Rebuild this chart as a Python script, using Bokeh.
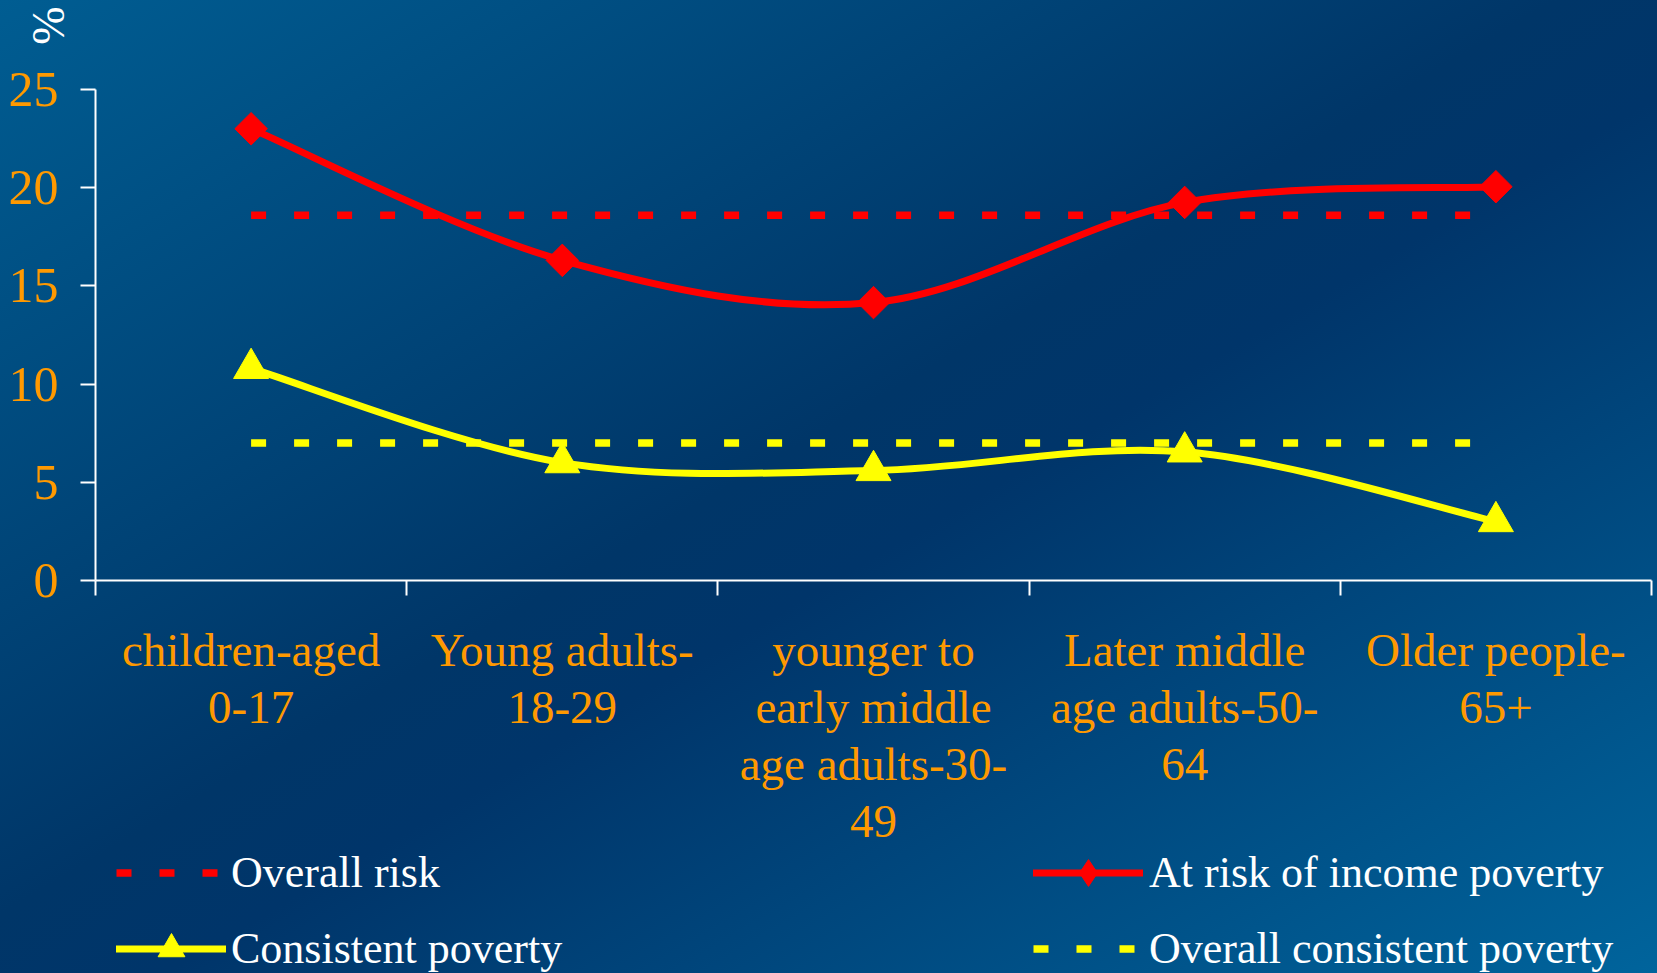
import numpy as np
from math import pi
from bokeh.plotting import figure
from bokeh.models import Range1d, FixedTicker, Legend, LegendItem, Label, ColumnDataSource
from bokeh.embed import file_html
from bokeh.resources import INLINE

# ---- data ----
categories = [
    "children-aged\n0-17",
    "Young adults-\n18-29",
    "younger to\nearly middle\nage adults-30-\n49",
    "Later middle\nage adults-50-\n64",
    "Older people-\n65+",
]
at_risk = [23.0, 16.3, 14.15, 19.25, 20.05]
consistent = [10.8, 6.0, 5.6, 6.55, 3.0]
overall_risk = 18.6
overall_consistent = 7.0
y_ticks = [0, 5, 10, 15, 20, 25]

FONT = "Liberation Serif"
ORANGE = "#FF9900"
RED = "#FF0000"
YELLOW = "#FFFF00"

W, H = 1657, 973
# plot-area placement (pixels)
LEFT, RIGHT, TOP, BOTTOM = 95, 1651, 89, 580
ncat = len(categories)
xc = [i + 0.5 for i in range(ncat)]
ymax = y_ticks[-1]
sx = (RIGHT - LEFT) / ncat
sy = (BOTTOM - TOP) / ymax
x_range = Range1d(-LEFT / sx, ncat + (W - RIGHT) / sx)
y_range = Range1d(-(H - BOTTOM) / sy, ymax + TOP / sy)


def smooth_source(xs, ys):
    """Bezier control points for a smoothed line through the data points."""
    pts = np.column_stack([xs, ys]).astype(float)
    ext = np.vstack([pts[0], pts, pts[-1]])
    d = dict(x0=[], y0=[], x1=[], y1=[], cx0=[], cy0=[], cx1=[], cy1=[])
    for i in range(len(pts) - 1):
        p0, p1, p2, p3 = ext[i], ext[i + 1], ext[i + 2], ext[i + 3]
        c0 = p1 + (p2 - p0) / 6.0
        c1 = p2 - (p3 - p1) / 6.0
        d["x0"].append(p1[0]); d["y0"].append(p1[1])
        d["x1"].append(p2[0]); d["y1"].append(p2[1])
        d["cx0"].append(c0[0]); d["cy0"].append(c0[1])
        d["cx1"].append(c1[0]); d["cy1"].append(c1[1])
    return ColumnDataSource(d)


p = figure(width=W, height=H, x_range=x_range, y_range=y_range,
           output_backend="svg", toolbar_location=None,
           min_border_left=0, min_border_right=0, min_border_top=0, min_border_bottom=0)
p.background_fill_alpha = 0
p.border_fill_alpha = 0
p.outline_line_color = None
p.styles = {"background": "linear-gradient(to bottom right, #005d92 0%, #003668 47%, #00356a 55%, #00649c 100%)"}
p.xgrid.visible = False
p.ygrid.visible = False

# y axis
ya = p.yaxis[0]
ya.fixed_location = 0
ya.bounds = (0, ymax)
ya.ticker = FixedTicker(ticks=y_ticks, minor_ticks=[])
ya.axis_line_color = "white"
ya.axis_line_width = 2
ya.major_tick_line_color = "white"
ya.major_tick_line_width = 2
ya.major_tick_out = 15
ya.major_tick_in = 0
ya.minor_tick_line_color = None
ya.major_label_text_color = ORANGE
ya.major_label_text_font = FONT
ya.major_label_text_font_size = "50px"
ya.major_label_standoff = 22

# x axis
xa = p.xaxis[0]
xa.fixed_location = 0
xa.bounds = (0, ncat)
xa.ticker = FixedTicker(ticks=xc, minor_ticks=list(range(ncat + 1)))
xa.axis_line_color = "white"
xa.axis_line_width = 2
xa.major_tick_line_color = None
xa.major_tick_out = 0
xa.major_tick_in = 0
xa.minor_tick_line_color = "white"
xa.minor_tick_line_width = 2
xa.minor_tick_out = 15
xa.minor_tick_in = 0
xa.major_label_overrides = {float(v): c for v, c in zip(xc, categories)}
xa.major_label_text_color = ORANGE
xa.major_label_text_font = FONT
xa.major_label_text_font_size = "47px"
xa.major_label_text_line_height = 1.1
xa.major_label_standoff = 28

# overall lines
r_orisk = p.line([xc[0], xc[-1]], [overall_risk, overall_risk], line_color=RED,
                 line_width=7.5, line_dash="15 28")
r_ocons = p.line([xc[0], xc[-1]], [overall_consistent, overall_consistent], line_color=YELLOW,
                 line_width=7.5, line_dash="15 28")

# smoothed series
r_risk_line = p.bezier(x0="x0", y0="y0", x1="x1", y1="y1", cx0="cx0", cy0="cy0",
                       cx1="cx1", cy1="cy1", source=smooth_source(xc, at_risk),
                       line_color=RED, line_width=7, line_cap="round")
r_risk_pts = p.scatter(xc, at_risk, marker="square", angle=pi / 4, size=23,
                       fill_color=RED, line_color=RED)
# diamond shape used for the legend key (legend sizes markers itself)
r_risk_key = p.scatter(xc, at_risk, marker="diamond", size=0,
                       fill_color=RED, line_color=RED)
r_cons_line = p.bezier(x0="x0", y0="y0", x1="x1", y1="y1", cx0="cx0", cy0="cy0",
                       cx1="cx1", cy1="cy1", source=smooth_source(xc, consistent),
                       line_color=YELLOW, line_width=7, line_cap="round")
r_cons_pts = p.scatter(xc, consistent, marker="triangle", size=35,
                       fill_color=YELLOW, line_color=YELLOW)

# "%" label
p.add_layout(Label(x=-0.151, y=28.26, text="%", angle=pi / 2, text_color="white",
                   text_font=FONT, text_font_size="46px", text_align="center",
                   text_baseline="middle"))


def make_legend(items, loc, glyph_w, standoff):
    return Legend(items=items, location=loc, orientation="vertical",
                  glyph_width=glyph_w, glyph_height=67, label_height=50,
                  label_standoff=standoff, spacing=9, padding=0, margin=0,
                  label_text_color="white", label_text_font=FONT,
                  label_text_font_size="44px", background_fill_alpha=0,
                  border_line_alpha=0)


leg1 = make_legend([LegendItem(label="Overall risk", renderers=[r_orisk]),
                    LegendItem(label="Consistent poverty", renderers=[r_cons_line, r_cons_pts])],
                   (116, -9), 110, 5)
leg2 = make_legend([LegendItem(label="At risk of income poverty", renderers=[r_risk_line, r_risk_key]),
                    LegendItem(label="Overall consistent poverty", renderers=[r_ocons])],
                   (1033, -9), 110, 6)
p.add_layout(leg1)
p.add_layout(leg2)

open("out.html", "w").write(file_html(p, INLINE))
